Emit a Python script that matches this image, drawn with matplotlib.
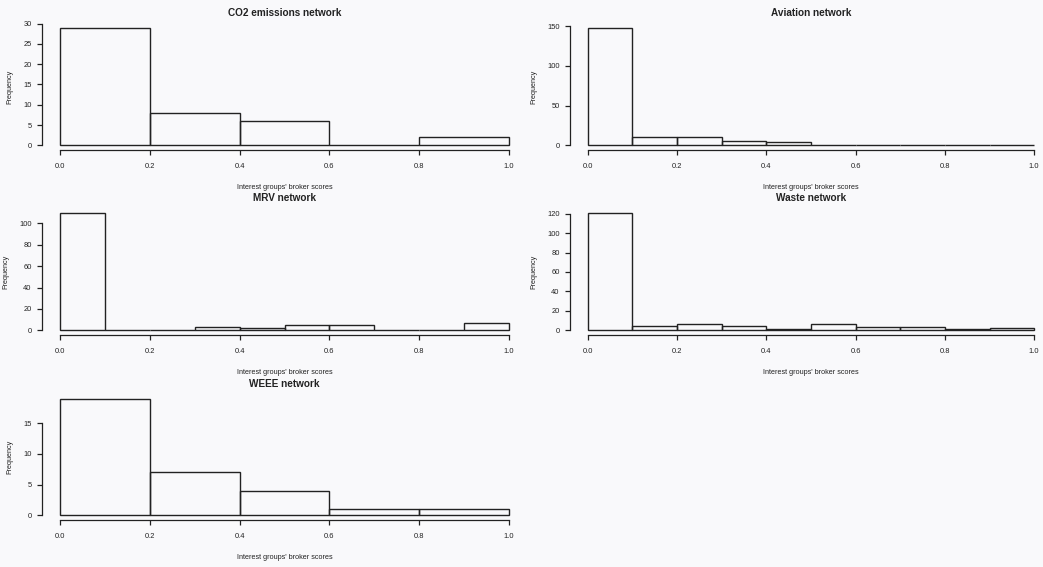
import numpy as np
import matplotlib
matplotlib.use("Agg")
import matplotlib.pyplot as plt

plt.rcParams['font.family'] = ['Liberation Sans', 'DejaVu Sans']

# Histogram counts of interest groups' broker scores per policy network
titles = ["CO2 emissions network", "Aviation network", "MRV network",
          "Waste network", "WEEE network"]

co2_breaks = [0.0, 0.2, 0.4, 0.6, 0.8, 1.0]
co2_counts = [29, 8, 6, 0, 2]

aviation_breaks = [0.0, 0.1, 0.2, 0.3, 0.4, 0.5, 0.6, 0.7, 0.8, 0.9, 1.0]
aviation_counts = [148, 10, 10, 6, 4, 0, 0, 0, 0, 1]

mrv_breaks = [0.0, 0.1, 0.2, 0.3, 0.4, 0.5, 0.6, 0.7, 0.8, 0.9, 1.0]
mrv_counts = [110, 0, 0, 3, 2, 5, 5, 0, 0, 7]

waste_breaks = [0.0, 0.1, 0.2, 0.3, 0.4, 0.5, 0.6, 0.7, 0.8, 0.9, 1.0]
waste_counts = [121, 4, 6, 4, 1, 6, 3, 3, 1, 2]

weee_breaks = [0.0, 0.2, 0.4, 0.6, 0.8, 1.0]
weee_counts = [19, 7, 4, 1, 1]

y_ticks = [
    [0, 5, 10, 15, 20, 25, 30],
    [0, 50, 100, 150],
    [0, 20, 40, 60, 80, 100],
    [0, 20, 40, 60, 80, 100, 120],
    [0, 5, 10, 15],
]
x_ticks = [0.0, 0.2, 0.4, 0.6, 0.8, 1.0]
x_label = "Interest groups' broker scores"
y_label = "Frequency"

panels = [
    (co2_breaks, co2_counts),
    (aviation_breaks, aviation_counts),
    (mrv_breaks, mrv_counts),
    (waste_breaks, waste_counts),
    (weee_breaks, weee_counts),
]

W, H = 1043, 567
fig = plt.figure(figsize=(W / 100, H / 100), dpi=100)
fig.patch.set_facecolor('#f9f9fb')

# plot regions in pixels: (left, top, right, bottom)
regions = [
    (42, 23, 527, 150),
    (570, 23, 1052, 150),
    (42, 208, 527, 335),
    (570, 208, 1052, 335),
    (42, 394, 527, 520),
]

ink = '#222222'
for (breaks, counts), title, yt, (l, t, r, b) in zip(panels, titles, y_ticks, regions):
    ax = fig.add_axes([l / W, 1 - b / H, (r - l) / W, (b - t) / H])
    ax.set_facecolor('none')
    breaks = np.asarray(breaks)
    counts = np.asarray(counts)
    widths = np.diff(breaks)
    ax.bar(breaks[:-1], counts, width=widths, align='edge', fill=False,
           edgecolor=ink, linewidth=1.0)
    top = counts.max()
    ax.set_xlim(-0.04, 1.04)
    ax.set_ylim(-0.04 * top, 1.04 * top)
    for s in ('top', 'right'):
        ax.spines[s].set_visible(False)
    ax.spines['bottom'].set_bounds(0.0, 1.0)
    ax.spines['left'].set_bounds(yt[0], yt[-1])
    for s in ('bottom', 'left'):
        ax.spines[s].set_color(ink)
        ax.spines[s].set_linewidth(0.9)
    ax.set_xticks(x_ticks)
    ax.set_xticklabels([f"{v:.1f}" for v in x_ticks])
    ax.set_yticks(yt)
    ax.tick_params(axis='both', direction='out', length=3.5, width=0.9,
                   color=ink, labelcolor=ink, labelsize=5.4)
    ax.tick_params(axis='x', pad=6)
    ax.tick_params(axis='y', pad=4)
    ax.set_title(title, fontsize=7.2, fontweight='bold', color=ink, pad=5)
    ax.set_xlabel(x_label, fontsize=5.2, color=ink, labelpad=10)
    ax.set_ylabel(y_label, fontsize=5.2, color=ink, labelpad=7)

fig.savefig("out.png", dpi=100, facecolor=fig.get_facecolor())
